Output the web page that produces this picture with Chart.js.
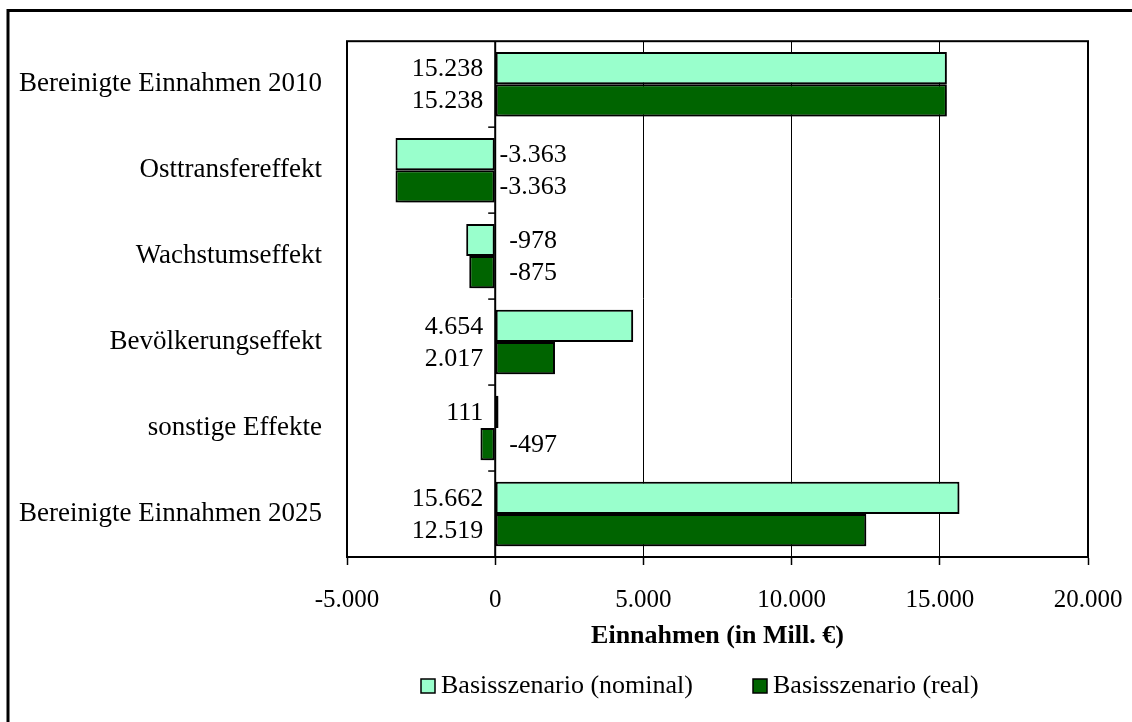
<!DOCTYPE html>
<html>
<head>
<meta charset="utf-8">
<script src="https://cdn.jsdelivr.net/npm/chart.js@4/dist/chart.umd.min.js"></script>
<style>
  html, body { margin: 0; padding: 0; background: #fff; }
  #c { display: block; }
</style>
</head>
<body>
<canvas id="c" width="1132" height="722"></canvas>
<script>
const categories = [
  'Bereinigte Einnahmen 2010',
  'Osttransfereffekt',
  'Wachstumseffekt',
  'Bevölkerungseffekt',
  'sonstige Effekte',
  'Bereinigte Einnahmen 2025'
];
const seriesNames = ['Basisszenario (nominal)', 'Basisszenario (real)'];
const nominalValues = [15238, -3363, -978, 4654, 111, 15662];
const realValues = [15238, -3363, -875, 2017, -497, 12519];
const xTickValues = [-5000, 0, 5000, 10000, 15000, 20000];
const xTitle = 'Einnahmen (in Mill. €)';

const FONT = '"Liberation Serif", "Times New Roman", Times, serif';

function fmt(v) {
  const neg = v < 0;
  let s = String(Math.abs(Math.round(v)));
  s = s.replace(/\B(?=(\d{3})+(?!\d))/g, '.');
  return (neg ? '-' : '') + s;
}

const decorPlugin = {
  id: 'decor',
  beforeDatasetsDraw(chart) {
    const ctx = chart.ctx;
    ctx.save();
    ctx.shadowColor = 'rgba(0,0,0,0.45)';
    ctx.shadowBlur = 7;
    ctx.shadowOffsetX = 3;
    ctx.shadowOffsetY = 3;
  },
  afterDatasetsDraw(chart) {
    const ctx = chart.ctx;
    ctx.restore();
    const xs = chart.scales.x;
    const ys = chart.scales.y;
    const area = chart.chartArea;
    const zero = xs.getPixelForValue(0);

    ctx.save();
    ctx.strokeStyle = '#000';
    ctx.lineWidth = 2;
    ctx.beginPath();
    ctx.moveTo(zero, area.top);
    ctx.lineTo(zero, area.bottom);
    ctx.stroke();
    ctx.lineWidth = 1.5;
    const n = categories.length;
    for (let i = 1; i < n; i++) {
      const y = (ys.getPixelForValue(i - 1) + ys.getPixelForValue(i)) / 2;
      ctx.beginPath();
      ctx.moveTo(zero - 7, y);
      ctx.lineTo(zero, y);
      ctx.stroke();
    }
    ctx.lineWidth = 2;
    ctx.strokeRect(area.left, area.top, area.right - area.left, area.bottom - area.top);
    ctx.restore();

    ctx.save();
    ctx.font = '26px ' + FONT;
    ctx.fillStyle = '#000';
    ctx.textBaseline = 'middle';
    chart.data.datasets.forEach((ds, di) => {
      const meta = chart.getDatasetMeta(di);
      meta.data.forEach((bar, i) => {
        const v = ds.data[i];
        const txt = fmt(v);
        if (v >= 0) {
          ctx.textAlign = 'right';
          ctx.fillText(txt, zero - 12, bar.y + 1);
        } else {
          ctx.textAlign = 'center';
          ctx.fillText(txt, zero + 38, bar.y + 1);
        }
      });
    });
    ctx.restore();
  },
  afterDraw(chart) {
    const ctx = chart.ctx;
    ctx.save();
    ctx.strokeStyle = '#000';
    ctx.lineWidth = 3;
    ctx.beginPath();
    ctx.moveTo(8, 722);
    ctx.lineTo(8, 10.5);
    ctx.lineTo(1132, 10.5);
    ctx.stroke();

    const ds = chart.data.datasets;
    const items = [{x: 421}, {x: 753}];
    ctx.font = '26px ' + FONT;
    ctx.textBaseline = 'middle';
    ctx.textAlign = 'left';
    ds.forEach((d, i) => {
      const bx = items[i].x;
      ctx.fillStyle = d.backgroundColor;
      ctx.fillRect(bx, 679, 14, 14);
      ctx.strokeStyle = '#000';
      ctx.lineWidth = 1.5;
      ctx.strokeRect(bx, 679, 14, 14);
      ctx.fillStyle = '#000';
      ctx.fillText(d.label, bx + 20, 686);
    });
    ctx.restore();
  }
};

new Chart(document.getElementById('c'), {
  type: 'bar',
  data: {
    labels: categories,
    datasets: [
      {
        label: seriesNames[0],
        data: nominalValues,
        backgroundColor: '#99FFCC',
        borderColor: '#000',
        borderWidth: 2,
        borderSkipped: false,
        barPercentage: 1.0,
        categoryPercentage: 0.75
      },
      {
        label: seriesNames[1],
        data: realValues,
        backgroundColor: '#006400',
        borderColor: '#000',
        borderWidth: 2,
        borderSkipped: false,
        barPercentage: 1.0,
        categoryPercentage: 0.75
      }
    ]
  },
  options: {
    indexAxis: 'y',
    responsive: false,
    animation: false,
    devicePixelRatio: 1,
    layout: { padding: { top: 39, right: 44, bottom: 0, left: 0 } },
    plugins: {
      legend: { display: false },
      tooltip: { enabled: false }
    },
    scales: {
      x: {
        type: 'linear',
        min: -5000,
        max: 20000,
        afterBuildTicks(scale) {
          scale.ticks = xTickValues.map(v => ({ value: v }));
        },
        afterFit(scale) {
          scale.height = 165;
          scale.paddingLeft = 0;
          scale.paddingRight = 0;
        },
        ticks: {
          callback: v => fmt(v),
          font: { family: FONT, size: 25 },
          color: '#000',
          padding: 20,
          maxRotation: 0
        },
        grid: {
          color: '#000',
          lineWidth: 1,
          drawTicks: true,
          tickLength: 8,
          tickColor: '#000',
          tickWidth: 1.5
        },
        border: { display: true, color: '#000', width: 2 },
        title: {
          display: true,
          text: xTitle,
          font: { family: FONT, size: 26, weight: 'bold' },
          color: '#000',
          padding: { top: 0, bottom: 70 }
        }
      },
      y: {
        type: 'category',
        afterFit(scale) { scale.width = 347; },
        ticks: {
          font: { family: FONT, size: 27 },
          color: '#000',
          padding: 25
        },
        grid: { display: false, drawTicks: false },
        border: { display: false }
      }
    }
  },
  plugins: [decorPlugin]
});
</script>
</body>
</html>
